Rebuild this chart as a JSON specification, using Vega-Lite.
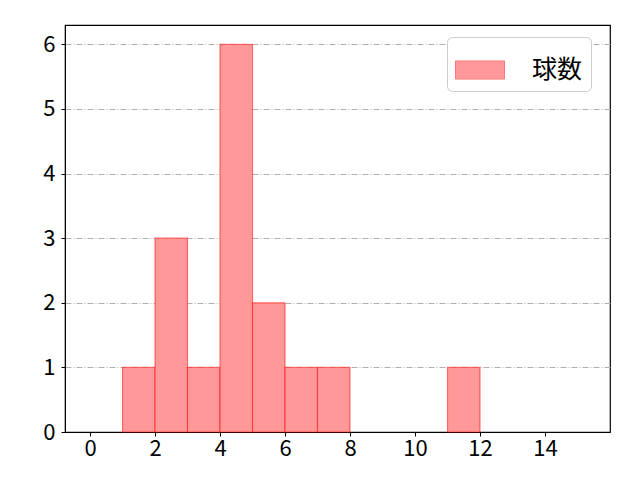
{
  "$schema": "https://vega.github.io/schema/vega-lite/v6.json",
  "autosize": "none",
  "padding": {"left": 65, "top": 25, "right": 30, "bottom": 48},
  "width": 545,
  "height": 407,
  "background": "white",
  "config": {
    "font": "Noto Sans CJK JP",
    "view": {"stroke": "black", "strokeWidth": 1.2},
    "axis": {
      "domainColor": "black",
      "tickColor": "black",
      "labelColor": "black",
      "labelFontSize": 22,
      "labelFont": "Noto Sans CJK JP",
      "tickSize": 4,
      "title": null
    }
  },
  "data": {
    "values": [
      {"start": 1, "end": 2, "count": 1, "series": "球数"},
      {"start": 2, "end": 3, "count": 3, "series": "球数"},
      {"start": 3, "end": 4, "count": 1, "series": "球数"},
      {"start": 4, "end": 5, "count": 6, "series": "球数"},
      {"start": 5, "end": 6, "count": 2, "series": "球数"},
      {"start": 6, "end": 7, "count": 1, "series": "球数"},
      {"start": 7, "end": 8, "count": 1, "series": "球数"},
      {"start": 11, "end": 12, "count": 1, "series": "球数"}
    ]
  },
  "mark": {"type": "bar", "fill": "#ff9999", "fillOpacity": 1, "stroke": "red", "strokeOpacity": 0.5, "strokeWidth": 1.2},
  "encoding": {
    "x": {
      "field": "start",
      "type": "quantitative",
      "scale": {"domain": [-0.77, 16.0], "nice": false, "zero": false},
      "axis": {"values": [0, 2, 4, 6, 8, 10, 12, 14], "grid": false, "labelFlush": false, "labelPadding": 2}
    },
    "x2": {"field": "end"},
    "y": {
      "field": "count",
      "type": "quantitative",
      "scale": {"domain": [0, 6.3], "nice": false},
      "axis": {
        "values": [0, 1, 2, 3, 4, 5, 6],
        "grid": true,
        "gridColor": "#b0b0b0",
        "gridDash": [6, 2, 1, 2],
        "gridWidth": 1,
        "labelFlush": false,
        "labelPadding": 6
      }
    },
    "y2": {"datum": 0},
    "color": {
      "field": "series",
      "type": "nominal",
      "scale": {"range": ["#ff9999"]},
      "legend": {
        "title": null,
        "orient": "none",
        "legendX": 382,
        "legendY": 12,
        "direction": "vertical",
        "strokeColor": "#cccccc",
        "cornerRadius": 5,
        "padding": 8,
        "fillColor": "white",
        "symbolType": "M-1,-0.37H1V0.37H-1Z",
        "symbolSize": 2400,
        "symbolOpacity": 1,
        "symbolFillColor": "#ff9999",
        "symbolStrokeColor": "#ff7777",
        "symbolStrokeWidth": 1,
        "labelFontSize": 25,
        "labelColor": "black",
        "labelOffset": 27,
        "labelFont": "Noto Sans CJK JP"
      }
    }
  }
}
